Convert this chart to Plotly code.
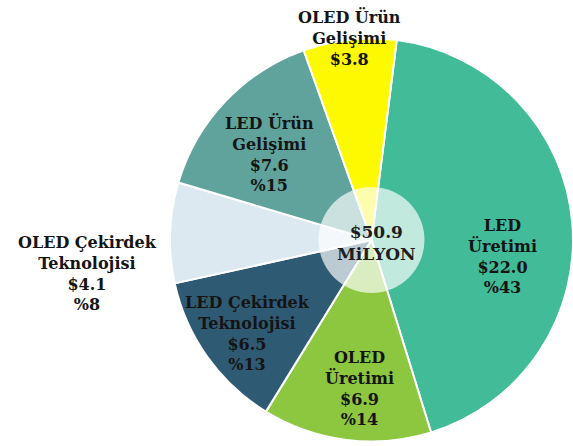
import math
import plotly.graph_objects as go

# Segment names (as printed on the chart), spend in $M and share in %
segments = ["LED Üretimi", "OLED Üretimi", "LED Çekirdek Teknolojisi",
            "OLED Çekirdek Teknolojisi", "LED Ürün Gelişimi", "OLED Ürün Gelişimi"]
label_text = ["LED<br>Üretimi", "OLED<br>Üretimi", "LED Çekirdek<br>Teknolojisi",
              "OLED Çekirdek<br>Teknolojisi", "LED Ürün<br>Gelişimi", "OLED Ürün<br>Gelişimi"]
spend = [22.0, 6.9, 6.5, 4.1, 7.6, 3.8]
share = [43, 14, 13, 8, 15, None]   # smallest slice shows no share
total_lines = ["$50.9", "MiLYON"]

colors = ["#41bb98", "#8dc63f", "#2f5a74", "#dde9f1", "#5fa39c", "#fcf900"]

W, H = 573, 446
dom_x = [170 / W, 1.0]
dom_y = [4 / H, 408 / H]
rotation = 7.2

# pie geometry in pixels (plotly fits the pie in its domain box)
dw = (dom_x[1] - dom_x[0]) * W
dh = (dom_y[1] - dom_y[0]) * H
R = min(dw, dh) / 2
cx = (dom_x[0] + dom_x[1]) / 2 * W
cy = H - (dom_y[0] + dom_y[1]) / 2 * H

fig = go.Figure()
fig.add_trace(go.Pie(
    labels=segments, values=spend, sort=False, direction="clockwise",
    rotation=rotation, marker=dict(colors=colors, line=dict(color="white", width=2)),
    textinfo="none", hoverinfo="label+value", showlegend=False,
    domain=dict(x=dom_x, y=dom_y),
))

# label placement: radial fraction of R and angular nudge (deg) per slice
label_rad = [0.655, 0.737, 0.769, 1.419, 0.662, 1.008]
label_turn = [12.0, -2.6, -1.5, -8.9, -3.4, 0.0]

tot = sum(spend)
start = rotation
for i, v in enumerate(spend):
    sweep = v / tot * 360
    mid = start + sweep / 2
    start += sweep
    a = math.radians(mid + label_turn[i])
    px = cx + R * label_rad[i] * math.sin(a)
    py = cy - R * label_rad[i] * math.cos(a)
    txt = f"{label_text[i]}<br>${v:.1f}"
    if share[i] is not None:
        txt += f"<br>%{share[i]}"
    fig.add_annotation(
        x=px / W, y=1 - py / H, xref="paper", yref="paper",
        xanchor="center", yanchor="middle",
        text=f"<b>{txt}</b>", showarrow=False, align="center",
        font=dict(family="DejaVu Serif", size=16, color="#141414"),
    )

# translucent disc at the centre with the total
hole_r = 53
fig.add_shape(
    type="circle", xref="paper", yref="paper",
    x0=(cx - hole_r) / W, x1=(cx + hole_r) / W,
    y0=1 - (cy + hole_r) / H, y1=1 - (cy - hole_r) / H,
    fillcolor="rgba(255,255,255,0.68)", line=dict(width=0),
)
fig.add_annotation(
    x=(cx + 5) / W, y=1 - (cy + 3) / H, xref="paper", yref="paper",
    xanchor="center", yanchor="middle",
    text="<b>" + "<br>".join(total_lines) + "</b>", showarrow=False,
    font=dict(family="DejaVu Serif", size=17, color="#1e1e1e"),
)

fig.update_layout(
    width=W, height=H, margin=dict(l=0, r=0, t=0, b=0),
    paper_bgcolor="white", plot_bgcolor="white",
)
fig.write_html("out.html")
